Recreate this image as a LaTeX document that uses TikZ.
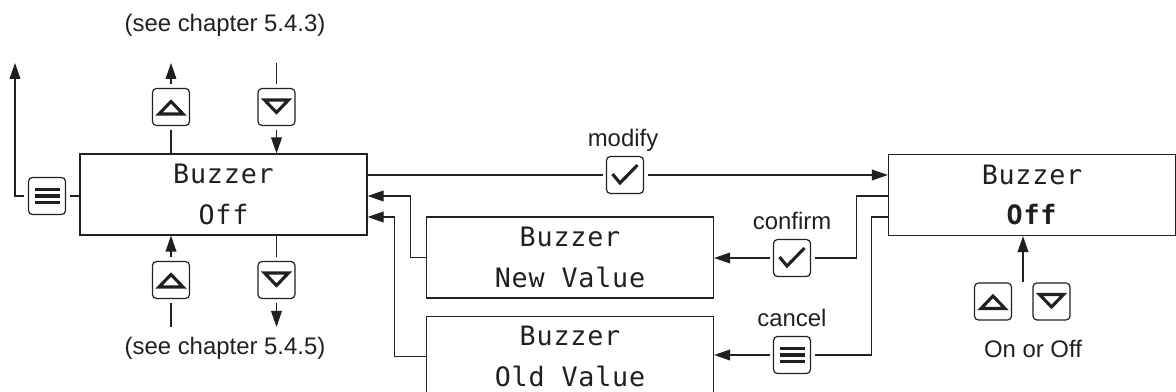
\documentclass[tikz,border=0pt]{standalone}
\usepackage{fontspec}
\setmainfont{Liberation Sans}
\newfontfamily\lcdfont[LetterSpace=3]{DejaVu Sans Mono}
\usetikzlibrary{positioning,calc,arrows.meta}
\definecolor{colorInk}{HTML}{231F20}
\tikzset{
   every path/.style={>={Triangle[length=0.4cm,width=0.27cm]}},
   wire/.style={draw=colorInk,line width=0.85pt},
   lcd/.style={draw=colorInk,line width=0.85pt,minimum width=7.175cm,minimum height=2.025cm,
      align=center,text=colorInk,font=\lcdfont\fontsize{19}{29}\selectfont},
   txt/.style={text=colorInk,inner sep=0pt,font=\fontsize{17}{20}\selectfont},
   key/.style={draw=colorInk,line width=0.85pt,rounded corners=0.1cm,minimum size=0.925cm,
      inner sep=0pt,outer sep=0.1cm},
   icon/.style={draw=colorInk,line width=2.2pt,sharp corners,
      shift={(path picture bounding box.center)}},
   keyup/.style={key,path picture={\draw[icon] (-12,7) -- (0,-5.5) -- (12,7) -- cycle;}},
   keydown/.style={key,path picture={\draw[icon] (-12,-7) -- (0,5.5) -- (12,-7) -- cycle;}},
   keycheck/.style={key,path picture={\draw[icon] (-12.5,-1) -- (-5,8) -- (12.5,-10);}},
   keymenu/.style={key,path picture={\draw[icon,line width=2.4pt] (-12.5,-6.5) -- (12.5,-6.5) (-12.5,0) -- (12.5,0) (-12.5,6.5) -- (12.5,6.5);}},
}

\begin{document}
\begin{tikzpicture}[x=0.025cm,y=-0.025cm]
   \useasboundingbox (0,0) rectangle (1176,392);

   % displays
   \node[lcd] (lcdMain) at (223.5,194.5) {Buzzer\\Off};
   \node[lcd] (lcdEdit) at (1032,195) {Buzzer\\\textbf{Off}};
   \node[lcd] (lcdNew) at (570,257.5) {Buzzer\\New Value};
   \node[lcd, below = 0.425cm of lcdNew] (lcdOld) {Buzzer\\Old Value};

   % keys
   \node[keymenu] (keyExit) at (47,196) {};
   \node[keyup] (keyUpT) at (171,107) {};
   \node[keydown] (keyDnT) at (276.5,107) {};
   \node[keyup] (keyUpB) at (171,280) {};
   \node[keydown] (keyDnB) at (276.5,280) {};
   \node[keycheck] (keyModify) at (625,175) {};
   \node[keycheck] (keyConfirm) at (792,258) {};
   \node[keymenu] (keyCancel) at (792,355) {};
   \node[keyup] (keyUpR) at (993,301.5) {};
   \node[keydown] (keyDnR) at (1051.5,301.5) {};

   % labels
   \node[txt, anchor=base] (seeTop) at (225,31.5) {(see chapter 5.4.3)};
   \node[txt, anchor=base] (seeBot) at (225,355) {(see chapter 5.4.5)};
   \node[txt, anchor=base] (lblModify) at (623,146.5) {modify};
   \node[txt, anchor=base] (lblConfirm) at (792,230) {confirm};
   \node[txt, anchor=base] (lblCancel) at (792,327) {cancel};
   \node[txt, anchor=base] (lblOnOff) at (1033,358) {On or Off};

   \coordinate (exitTip) at (15,63);
   \coordinate (upTip) at (171,63);
   \coordinate (dnStart) at (276.5,63);
   \coordinate (upStart) at (171,327);
   \coordinate (dnTip) at (276.5,327);
   \coordinate (selTail) at (1023,282);

   \draw[wire] (lcdMain.west |- keyExit) -- (keyExit.east);
   \draw[wire,->] (keyExit.west) -| (exitTip);
   \draw[wire] (lcdMain.north -| keyUpT) -- (keyUpT.south);
   \draw[wire,->] (keyUpT.north) -- (upTip);
   \draw[wire] (dnStart) -- (keyDnT.north);
   \draw[wire,->] (keyDnT.south) -- (keyDnT |- lcdMain.north);
   \draw[wire] (upStart) -- (keyUpB.south);
   \draw[wire,->] (keyUpB.north) -- (keyUpB |- lcdMain.south);
   \draw[wire] (keyDnB |- lcdMain.south) -- (keyDnB.north);
   \draw[wire,->] (keyDnB.south) -- (dnTip);

   \draw[wire] (lcdMain.east |- keyModify) -- (keyModify.west);
   \draw[wire,->] (keyModify.east) -- (keyModify -| lcdEdit.west);
   \draw[wire] ($(lcdEdit.west)+(0,1)$) -- ++(-31,0) |- (keyConfirm.east);
   \draw[wire,->] (keyConfirm.west) -- (keyConfirm -| lcdNew.east);
   \draw[wire] ($(lcdEdit.west)+(0,22)$) -- ++(-16,0) |- (keyCancel.east);
   \draw[wire,->] (keyCancel.west) -- (keyCancel -| lcdOld.east);
   \draw[wire,->] (lcdNew.west) -- ++(-15,0) |- ($(lcdMain.east)+(0,1.5)$);
   \draw[wire,->] (lcdOld.west) -- ++(-31,0) |- ($(lcdMain.east)+(0,22.5)$);
   \draw[wire,->] (selTail) -- (selTail |- lcdEdit.south);
\end{tikzpicture}
\end{document}
